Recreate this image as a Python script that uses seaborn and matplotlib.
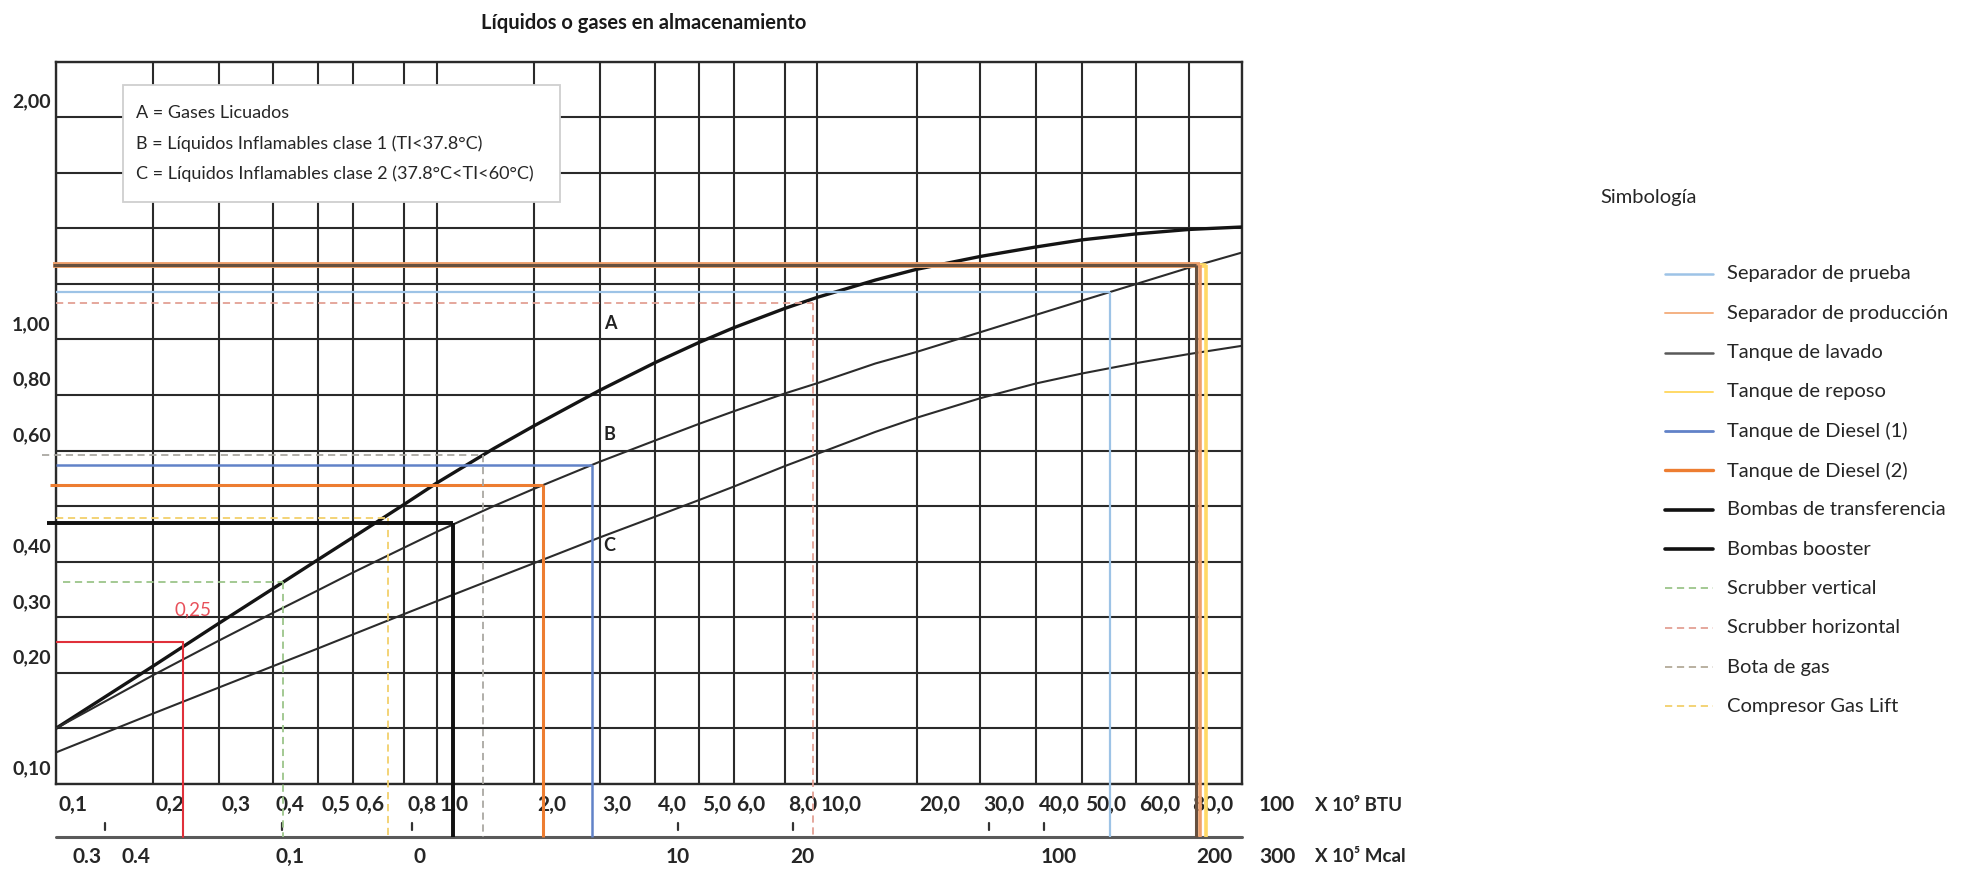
import numpy as np
import pandas as pd
import matplotlib
matplotlib.use("Agg")
import matplotlib.pyplot as plt
import seaborn as sns
from matplotlib.lines import Line2D
from matplotlib.patches import Rectangle
from matplotlib.ticker import FixedLocator, NullLocator, NullFormatter
from matplotlib.transforms import blended_transform_factory

# ---------------------------------------------------------------- data
# Energy axis, x 10^9 BTU (grid values and their printed labels)
BTU_GRID = [0.1, 0.2, 0.3, 0.4, 0.5, 0.6, 0.8, 1.0, 2.0, 3.0, 4.0, 5.0, 6.0,
            8.0, 10.0, 20.0, 30.0, 40.0, 50.0, 60.0, 80.0, 100.0]
BTU_LABELS = ["0,1", "0,2", "0,3", "0,4", "0,5", "0,6", "0,8", "1,0", "2,0",
              "3,0", "4,0", "5,0", "6,0", "8,0", "10,0", "20,0", "30,0",
              "40,0", "50,0", "60,0", "80,0"]
BTU_END_LABEL = "100"

# Secondary energy row, x 10^5 Mcal
MCAL_LABELS = ["0.3", "0.4", "0,1", "0", "10", "20", "100", "200"]
MCAL_AT = [0.125, 0.177, 0.435, 0.89, 4.49, 8.99, 44.6, 89.1]
MCAL_TICKS = [0.142, 0.418, 0.843, 4.49, 8.46, 31.4, 41.6]
MCAL_END_LABEL = "300"

# Spacing axis: grid rows (top to bottom) and labelled values
SEP_GRID = [2.38, 2.00, 1.68, 1.41, 1.19, 1.00, 0.80, 0.60, 0.49, 0.40,
            0.30, 0.20, 0.14, 0.10]
SEP_TICKS = [2.00, 1.00, 0.80, 0.60, 0.40, 0.30, 0.20, 0.10]
SEP_TICK_LABELS = ["2,00", "1,00", "0,80", "0,60", "0,40", "0,30", "0,20", "0,10"]

# Curves A, B, C (spacing read along the energy axis)
CURVE_X = [0.1, 0.2, 0.3, 0.4, 0.5, 0.6, 0.8, 1.0, 1.5, 2.0, 3.0, 4.0, 5.0,
           6.0, 8.0, 10.0, 15.0, 20.0, 30.0, 40.0, 50.0, 60.0, 80.0, 100.0]
CURVE_A_Y = [0.140, 0.210, 0.287, 0.348, 0.403, 0.437, 0.493, 0.533, 0.606,
             0.682, 0.815, 0.911, 0.988, 1.037, 1.102, 1.141, 1.204, 1.244,
             1.294, 1.332, 1.361, 1.386, 1.405, 1.416]
CURVE_B_Y = [0.140, 0.197, 0.253, 0.307, 0.345, 0.378, 0.421, 0.446, 0.490,
             0.522, 0.576, 0.632, 0.689, 0.735, 0.805, 0.839, 0.908, 0.951,
             1.023, 1.080, 1.129, 1.189, 1.250, 1.310]
CURVE_C_Y = [0.121, 0.154, 0.182, 0.210, 0.239, 0.2645, 0.305, 0.326, 0.366,
             0.397, 0.437, 0.4715, 0.501, 0.526, 0.567, 0.593, 0.661, 0.711,
             0.787, 0.838, 0.872, 0.909, 0.943, 0.975]
CURVE_NAMES = ["A", "B", "C"]
CURVE_KEY = ["A = Gases Licuados",
             "B = Líquidos Inflamables clase 1 (TI<37.8°C)",
             "C = Líquidos Inflamables clase 2 (37.8°C<TI<60°C)"]

# Equipment readings (energy, spacing)
EQUIPOS = ["Separador de prueba", "Separador de producción", "Tanque de lavado",
           "Tanque de reposo", "Tanque de Diesel (1)", "Tanque de Diesel (2)",
           "Bombas de transferencia", "Bombas booster", "Scrubber vertical",
           "Scrubber horizontal", "Bota de gas", "Compresor Gas Lift"]
EQ_BTU = [55.0, 83.8, 82.3, 85.9, 2.86, 2.11, 1.12, 1.12, 0.42, 9.7, 1.39, 0.73]
EQ_SEP = [1.16, 1.26, 1.26, 1.26, 0.57, 0.53, 0.46, 0.46, 0.36, 1.12, 0.59, 0.47]

# Reference reading
REF_BTU = 0.24
REF_SEP = 0.25
REF_LABEL = "0,25"

# ---------------------------------------------------------------- styles
DASH = (0, (4, 2.6))
EQ_STYLE = [  # colour, line width, line style, legend width
    ("#9dc3e6", 1.6, "-", 1.8),
    ("#eea06c", 4.2, "-", 1.4),
    ("#66503f", 2.2, "-", 1.8),
    ("#ffd966", 3.4, "-", 1.4),
    ("#6182c8", 1.8, "-", 2.0),
    ("#ed7d31", 2.2, "-", 2.4),
    ("#111111", 2.6, "-", 2.6),
    ("#111111", 2.6, "-", 2.6),
    ("#9cc58a", 1.3, DASH, 1.3),
    ("#e3a094", 1.3, DASH, 1.3),
    ("#aaa8a2", 1.3, DASH, 1.3),
    ("#f2d06b", 1.3, DASH, 1.3),
]
LEGEND_COLOURS = ["#9dc3e6", "#f4b183", "#595959", "#ffd966", "#6182c8",
                  "#ed7d31", "#111111", "#111111", "#9cc58a", "#e3a094",
                  "#b3aa98", "#f2d06b"]
# where each leader starts, in pixels left of the frame (negative = inside)
LEAD_IN_PX = [0, 3, 3, 0, 0, 6, 9, 9, -7, 0, 14, 0]
EQ_Z = [4.6, 4.8, 4.9, 4.5, 5, 5, 5.2, 5.2, 5, 5, 5, 5]

sns.set_theme(style="white")
plt.rcParams["font.family"] = ["Lato", "DejaVu Sans"]
INK = "#262626"
GRID = "#2a2a2a"


def nomogram_scale(values, positions):
    """Piecewise log scale that follows the nomogram's drawn grid spacing."""
    lv = np.log10(np.asarray(values, float))
    p = np.asarray(positions, float)
    order = np.argsort(lv)
    lv, p = lv[order], p[order]
    s_lo = (p[1] - p[0]) / (lv[1] - lv[0])
    s_hi = (p[-1] - p[-2]) / (lv[-1] - lv[-2])
    lv = np.r_[lv[0] - 5, lv, lv[-1] + 5]
    p = np.r_[p[0] - 5 * s_lo, p, p[-1] + 5 * s_hi]

    def fwd(v):
        v = np.asarray(v, float)
        safe = np.where(v > 0, v, 1e-300)
        return np.interp(np.log10(safe), lv, p)

    def inv(q):
        return 10 ** np.interp(np.asarray(q, float), p, lv)

    return fwd, inv


# spacing of the printed energy grid (nomogram paper units)
BTU_SPACING = [55.8, 153, 218.8, 273, 318, 352.7, 404, 436.6, 534, 599.6,
               655, 699, 733.5, 784.8, 817.4, 916.5, 980.4, 1036, 1081.7,
               1135.7, 1188.8, 1242.4]
SEP_SPACING = -np.arange(len(SEP_GRID))  # evenly spaced rows

W, H = 1971, 871
AX_W_PX, AX_H_PX = 1186.6, 722.4
fig = plt.figure(figsize=(W / 100, H / 100), dpi=100, facecolor="white")
ax = fig.add_axes([55.8 / W, 1 - 784 / H, AX_W_PX / W, AX_H_PX / H])
ax.set_xscale("function", functions=nomogram_scale(BTU_GRID, BTU_SPACING))
ax.set_yscale("function", functions=nomogram_scale(SEP_GRID, SEP_SPACING))

# ---------------------------------------------------------------- curves
curves = pd.concat([
    pd.DataFrame({"btu": CURVE_X, "sep": CURVE_A_Y, "curva": "A"}),
    pd.DataFrame({"btu": CURVE_X, "sep": CURVE_B_Y, "curva": "B"}),
    pd.DataFrame({"btu": CURVE_X, "sep": CURVE_C_Y, "curva": "C"}),
], ignore_index=True)
for name, lw, col in [("A", 2.4, "#141414"), ("B", 1.5, "#2b2b2b"),
                      ("C", 1.5, "#2b2b2b")]:
    sns.lineplot(data=curves[curves["curva"] == name], x="btu", y="sep",
                 ax=ax, color=col, linewidth=lw, estimator=None, zorder=4,
                 solid_joinstyle="round")

ax.set_xlim(BTU_GRID[0], BTU_GRID[-1])
ax.set_ylim(SEP_GRID[-1], SEP_GRID[0])
ax.set_xlabel("")
ax.set_ylabel("")

# ---------------------------------------------------------------- grid / frame
ax.xaxis.set_major_locator(FixedLocator(BTU_GRID))
ax.yaxis.set_major_locator(FixedLocator(SEP_GRID))
for axis in (ax.xaxis, ax.yaxis):
    axis.set_minor_locator(NullLocator())
    axis.set_major_formatter(NullFormatter())
ax.grid(True, which="major", color=GRID, linewidth=1.5)
ax.set_axisbelow(True)
ax.tick_params(length=0, labelbottom=False, labelleft=False)
for sp in ax.spines.values():
    sp.set_visible(True)
    sp.set_color(GRID)
    sp.set_linewidth(1.7)

below = blended_transform_factory(ax.transData, ax.transAxes)
across = blended_transform_factory(ax.transAxes, ax.transData)
SEC_AXIS_Y = -53 / AX_H_PX


def to_axes(x, y):
    return ax.transAxes.inverted().transform(ax.transData.transform((x, y)))


# ---------------------------------------------------------------- readings
for x, y, (col, lw, ls, _), z, lead in zip(EQ_BTU, EQ_SEP, EQ_STYLE, EQ_Z,
                                           LEAD_IN_PX):
    xa, ya = to_axes(x, y)
    ax.plot([-lead / AX_W_PX, xa], [y, y], transform=across, color=col,
            lw=lw, ls=ls, zorder=z, clip_on=False, solid_capstyle="butt")
    ax.plot([x, x], [ya, SEC_AXIS_Y], transform=below, color=col,
            lw=min(lw, 2.6), ls=ls, zorder=z, clip_on=False,
            solid_capstyle="butt")

ax.plot([BTU_GRID[0], REF_BTU], [REF_SEP, REF_SEP], color="#e0303a", lw=1.5,
        zorder=5)
ax.plot([REF_BTU, REF_BTU], [to_axes(REF_BTU, REF_SEP)[1], SEC_AXIS_Y],
        transform=below, color="#e0303a", lw=1.5, zorder=5, clip_on=False)
ax.annotate(REF_LABEL, xy=(REF_BTU, REF_SEP), xytext=(10, 32),
            textcoords="offset pixels", ha="center", va="center",
            fontsize=13.5, color="#e8505a", zorder=6)

# curve letters
for name, v in zip(CURVE_NAMES, [1.00, 0.60, 0.40]):
    ax.annotate(name, xy=(3.0, v), xytext=(4, 16), textcoords="offset pixels",
                ha="left", va="center", fontsize=13, fontweight="bold",
                color="#222222", zorder=6)

# ---------------------------------------------------------------- axis texts
for v, lbl in zip(SEP_TICKS, SEP_TICK_LABELS):
    ax.annotate(lbl, xy=(0, v), xycoords=("axes fraction", "data"),
                xytext=(-5, 15), textcoords="offset pixels", ha="right",
                va="center", fontsize=14, fontweight="bold", color=INK,
                annotation_clip=False)

for v, lbl in zip(BTU_GRID, BTU_LABELS):
    ax.annotate(lbl, xy=(v, 0), xycoords=("data", "axes fraction"),
                xytext=(3, -21), textcoords="offset pixels", ha="left",
                va="center", fontsize=15, fontweight="bold", color=INK,
                annotation_clip=False)
ax.text(1.0292, -0.0291, BTU_END_LABEL, transform=ax.transAxes, ha="center",
        va="center", fontsize=15, fontweight="bold", color=INK)
ax.text(1.0616, -0.0291, "X 10⁹ BTU", transform=ax.transAxes, ha="left",
        va="center", fontsize=13.5, fontweight="bold", color=INK)

# secondary Mcal row
ax.plot([0, 1], [SEC_AXIS_Y, SEC_AXIS_Y], transform=ax.transAxes,
        color="#5a5a5a", lw=2.2, clip_on=False, zorder=3)
for v in MCAL_TICKS:
    ax.plot([v, v], [-0.054, -0.064], transform=below, color="#333333",
            lw=1.6, clip_on=False)
for v, lbl in zip(MCAL_AT, MCAL_LABELS):
    ax.text(v, -0.1006, lbl, transform=below, ha="center", va="center",
            fontsize=15, fontweight="bold", color=INK)
ax.text(1.0292, -0.1006, MCAL_END_LABEL, transform=ax.transAxes, ha="center",
        va="center", fontsize=15, fontweight="bold", color=INK)
ax.text(1.0616, -0.1006, "X 10⁵ Mcal", transform=ax.transAxes, ha="left",
        va="center", fontsize=13.5, fontweight="bold", color=INK)

# ---------------------------------------------------------------- curve key box
ax.add_patch(Rectangle((0.0565, 0.8061), 0.4249 - 0.0565, 0.9676 - 0.8061,
                       transform=ax.transAxes, facecolor="white",
                       edgecolor="#cfcfcf", lw=1.3, zorder=6))
for txt, yy in zip(CURVE_KEY, [0.9284, 0.8869, 0.8453]):
    ax.text(0.0675, yy, txt, transform=ax.transAxes, ha="left", va="center",
            fontsize=13, color=INK, zorder=7)

# ---------------------------------------------------------------- title
fig.text(643.5 / W, 1 - 23 / H, "Líquidos o gases en almacenamiento",
         ha="center", va="center", fontsize=14.5, fontweight="bold",
         color="#1a1a1a")

# ---------------------------------------------------------------- symbology
fig.text(1600 / W, 1 - 197 / H, "Simbología", ha="left", va="center",
         fontsize=14.5, color=INK)
for i, (name, (col, lw, ls, lgw), lcol) in enumerate(
        zip(EQUIPOS, EQ_STYLE, LEGEND_COLOURS)):
    yc = 1 - (274 + 39.3 * i) / H
    fig.add_artist(Line2D([1665 / W, 1713 / W], [yc, yc],
                          transform=fig.transFigure, color=lcol, lw=lgw, ls=ls))
    fig.text(1727 / W, yc, name, ha="left", va="center", fontsize=14.5,
             color=INK)

fig.savefig("out.png", dpi=100, facecolor="white")
